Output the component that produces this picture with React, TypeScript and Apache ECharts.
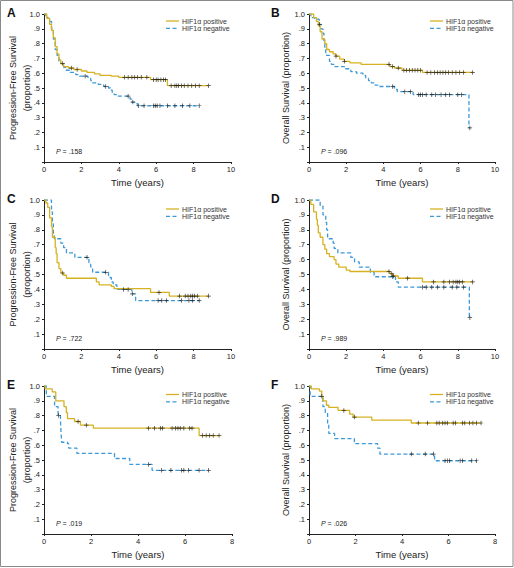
import React, { useEffect, useRef } from "react";
import * as echarts from "echarts";

// ---------- DATA ----------
const seriesNames = ["HIF1\u03b1 positive", "HIF1\u03b1 negative"];
const panelLetters = ["A", "B", "C", "D", "E", "F"];
const pValues = [".158", ".096", ".722", ".989", ".019", ".026"];
const yTitles = [
  "Progression-Free Survival\n(proportion)",
  "Overall Survival (proportion)",
  "Progression-Free Survival\n(proportion)",
  "Overall Survival (proportion)",
  "Progression-Free Survival\n(proportion)",
  "Overall Survival (proportion)",
];
const xTitle = "Time (years)";
const xMaxes = [10, 10, 10, 10, 8, 8];
const yTicks = [0, 0.1, 0.2, 0.3, 0.4, 0.5, 0.6, 0.7, 0.8, 0.9, 1.0];

// Panel A (PFS)
const aPos = [[0,1],[0.15,0.97],[0.3,0.93],[0.4,0.89],[0.5,0.84],[0.6,0.78],[0.7,0.73],[0.8,0.69],[0.9,0.665],[1.05,0.645],[1.3,0.635],[1.6,0.625],[2.0,0.615],[2.3,0.605],[2.7,0.595],[3.0,0.585],[3.6,0.58],[4.0,0.572],[5.7,0.556],[6.6,0.516]];
const aPosCens = [1.46,1.77,4.3,4.5,4.7,4.85,5.0,5.2,5.5,5.85,6.0,6.1,6.25,6.4,6.5,6.8,7.0,7.1,7.2,7.35,7.5,7.7,7.9,8.1,8.3,8.8];
const aNeg = [[0,1],[0.1,0.985],[0.2,0.97],[0.3,0.95],[0.4,0.9],[0.5,0.83],[0.6,0.76],[0.7,0.72],[0.8,0.68],[0.9,0.665],[1.05,0.64],[1.15,0.62],[1.4,0.605],[1.7,0.59],[1.9,0.58],[2.35,0.565],[2.5,0.55],[2.6,0.535],[2.9,0.525],[3.05,0.52],[3.2,0.51],[3.45,0.5],[3.55,0.485],[3.65,0.47],[3.75,0.455],[3.9,0.445],[4.6,0.425],[4.7,0.405],[4.85,0.395],[5.0,0.38]];
const aNegCens = [1.0,2.2,3.3,4.5,4.75,5.05,5.35,5.85,5.95,6.05,6.2,6.6,7.0,7.4,7.8,8.3];

// Panel B (OS)
const bPos = [[0,1],[0.25,0.975],[0.4,0.95],[0.5,0.92],[0.6,0.88],[0.7,0.83],[0.85,0.8],[0.95,0.76],[1.1,0.745],[1.3,0.73],[1.45,0.715],[1.65,0.695],[1.9,0.68],[2.2,0.67],[2.8,0.66],[4.35,0.645],[4.6,0.635],[5.0,0.62],[6.1,0.605]];
const bPosCens = [1.45,1.9,4.3,4.5,4.8,5.1,5.25,5.4,5.55,5.7,5.85,6.0,6.35,6.55,6.75,6.9,7.05,7.2,7.35,7.5,7.7,7.9,8.1,8.3,8.8];
const bNeg = [[0,1],[0.1,0.975],[0.3,0.965],[0.55,0.93],[0.65,0.9],[0.75,0.87],[0.8,0.82],[0.85,0.77],[0.9,0.72],[1.1,0.68],[1.2,0.66],[1.35,0.645],[1.9,0.63],[2.25,0.61],[2.55,0.6],[2.9,0.585],[3.05,0.565],[3.2,0.55],[3.35,0.535],[3.55,0.52],[3.7,0.51],[4.6,0.49],[4.75,0.475],[5.6,0.455],[8.6,0.23]];
const bNegCens = [0.57,4.5,5.15,5.45,5.9,6.0,6.1,6.3,6.6,6.8,7.1,7.35,7.55,8.0,8.2,8.65];

// Panel C (PFS)
const cPos = [[0,1],[0.1,0.98],[0.2,0.95],[0.3,0.88],[0.4,0.82],[0.45,0.75],[0.6,0.68],[0.65,0.64],[0.7,0.58],[0.8,0.54],[0.9,0.51],[1.05,0.495],[1.2,0.475],[2.8,0.45],[2.95,0.43],[3.6,0.42],[3.75,0.405],[5.7,0.38],[6.7,0.355]];
const cPosCens = [1.0,6.15,7.25,7.55,7.7,7.85,7.95,8.05,8.2,8.8];
const cNeg = [[0,1],[0.4,0.92],[0.45,0.84],[0.5,0.77],[0.55,0.74],[0.9,0.71],[1.05,0.68],[1.2,0.645],[1.65,0.615],[2.4,0.58],[2.5,0.55],[2.6,0.515],[3.45,0.48],[3.6,0.45],[3.7,0.43],[3.9,0.4],[4.7,0.37],[4.9,0.325]];
const cNegCens = [2.3,3.3,4.25,4.5,4.72,6.1,6.3,6.55,7.35,7.75,7.95,8.3];

// Panel D (OS)
const dPos = [[0,1],[0.1,0.97],[0.25,0.92],[0.4,0.87],[0.45,0.83],[0.5,0.78],[0.6,0.75],[0.75,0.7],[0.85,0.67],[0.95,0.64],[1.1,0.62],[1.35,0.6],[1.45,0.57],[1.6,0.55],[2.0,0.53],[2.2,0.52],[4.35,0.505],[4.5,0.49],[4.8,0.475],[6.1,0.45]];
const dPosCens = [4.3,4.45,4.55,5.3,6.7,7.25,7.55,7.75,7.9,8.0,8.1,8.25,8.8];
const dNeg = [[0,1],[0.6,0.96],[0.75,0.9],[0.9,0.85],[0.95,0.8],[1.0,0.74],[1.3,0.71],[1.35,0.675],[1.55,0.645],[2.25,0.615],[2.45,0.585],[2.7,0.55],[3.3,0.515],[3.5,0.485],[4.65,0.45],[4.8,0.415],[8.62,0.21]];
const dNegCens = [4.5,6.1,6.3,6.6,6.9,7.25,7.7,7.95,8.3,8.65];

// Panel E (PFS)
const ePos = [[0,1],[0.05,0.98],[0.35,0.96],[0.5,0.9],[0.85,0.86],[0.95,0.82],[1.0,0.78],[1.3,0.76],[1.55,0.735],[2.1,0.715],[6.6,0.665]];
const ePosCens = [1.45,1.8,4.45,4.7,4.95,5.05,5.45,5.6,5.7,5.8,5.95,6.2,6.3,6.75,6.9,7.05,7.2,7.45];
const eNeg = [[0,1],[0.1,0.93],[0.45,0.86],[0.6,0.8],[0.7,0.77],[0.72,0.7],[0.75,0.62],[1.0,0.61],[1.05,0.58],[1.4,0.545],[3.0,0.51],[3.65,0.47],[4.6,0.43]];
const eNegCens = [0.62,4.45,5.0,5.4,5.85,5.95,6.15,6.6,7.0];

// Panel F (OS)
const fPos = [[0,1],[0.1,0.98],[0.45,0.965],[0.55,0.93],[0.6,0.9],[0.75,0.87],[0.85,0.855],[1.25,0.835],[1.75,0.81],[1.9,0.79],[2.7,0.77],[4.4,0.75]];
const fPosCens = [1.5,1.95,4.7,5.1,5.5,5.6,5.75,5.85,5.95,6.2,6.3,6.6,6.7,6.9,7.05,7.2,7.4];
const fNeg = [[0,1],[0.05,0.93],[0.6,0.86],[0.7,0.82],[0.8,0.74],[0.85,0.68],[1.1,0.645],[1.95,0.61],[2.95,0.58],[3.05,0.54],[5.4,0.495]];
const fNegCens = [0.55,4.4,5.0,5.35,5.85,5.95,6.05,6.5,6.6,7.0,7.2];

const posCurves = [aPos, bPos, cPos, dPos, ePos, fPos];
const posCensors = [aPosCens, bPosCens, cPosCens, dPosCens, ePosCens, fPosCens];
const negCurves = [aNeg, bNeg, cNeg, dNeg, eNeg, fNeg];
const negCensors = [aNegCens, bNegCens, cNegCens, dNegCens, eNegCens, fNegCens];

// ---------- LAYOUT / STYLE ----------
const FONT = '"Liberation Sans Narrow", "Liberation Sans", Arial, sans-serif';
const BOLD_FONT = '"Liberation Sans", Arial, sans-serif';
const POS_COLOR = "#D6B222";
const NEG_COLOR = "#3D9AD8";
const grids = [
  { left: 44, top: 14, width: 187, height: 148 },
  { left: 309, top: 14, width: 186, height: 148 },
  { left: 44, top: 200, width: 187, height: 149 },
  { left: 309, top: 200, width: 186, height: 149 },
  { left: 44, top: 386, width: 188, height: 148 },
  { left: 309, top: 386, width: 186, height: 148 },
];
const PLUS = "path://M4.2,0h1.6v4.2h4.2v1.6h-4.2v4.2h-1.6v-4.2h-4.2v-1.6h4.2z";

function survAt(curve: number[][], t: number): number {
  let v = curve[0][1];
  for (const [ti, si] of curve) {
    if (ti <= t) v = si;
  }
  return v;
}

function lineData(curve: number[][], cens: number[]): number[][] {
  const out = curve.map((p) => [p[0], p[1]]);
  const last = out[out.length - 1];
  const maxC = Math.max(...cens);
  if (maxC > last[0]) out.push([maxC, last[1]]);
  return out;
}

function buildOption() {
  const xAxes: any[] = [];
  const yAxes: any[] = [];
  const series: any[] = [];
  const graphic: any[] = [];

  graphic.push({
    type: "rect",
    shape: { x: 0.5, y: 0.5, width: 512.5, height: 566 },
    style: { fill: "none", stroke: "#8a8a8a", lineWidth: 1 },
    silent: true,
  });

  grids.forEach((g, i) => {
    const isLeft = i % 2 === 0;
    xAxes.push({
      gridIndex: i,
      type: "value",
      min: 0,
      max: xMaxes[i],
      interval: 2,
      name: xTitle,
      nameLocation: "middle",
      nameGap: 15,
      nameMoveOverlap: false,
      nameTextStyle: { fontFamily: FONT, fontSize: 9.5, color: "#222" },
      axisLine: { lineStyle: { color: "#222", width: 1 } },
      axisTick: { length: 2, lineStyle: { color: "#222" } },
      axisLabel: { fontFamily: FONT, fontSize: 7.5, color: "#222", margin: 3 },
      splitLine: { show: false },
    });
    yAxes.push({
      gridIndex: i,
      type: "value",
      min: 0,
      max: 1,
      interval: 0.1,
      name: yTitles[i],
      nameLocation: "middle",
      nameRotate: 90,
      nameGap: isLeft ? 10 : 16,
      nameMoveOverlap: false,
      nameTextStyle: { fontFamily: FONT, fontSize: 9, color: "#222", lineHeight: 14 },
      axisLine: { show: true, lineStyle: { color: "#222", width: 1 } },
      axisTick: { show: true, length: 2, lineStyle: { color: "#222" } },
      axisLabel: {
        fontFamily: FONT,
        fontSize: 7.5,
        color: "#222",
        margin: 4,
        formatter: (v: number) => {
          const idx = yTicks.findIndex((t) => Math.abs(t - v) < 1e-6);
          if (idx <= 0) return "";
          if (idx === yTicks.length - 1) return "1.0";
          return "." + idx;
        },
      },
      splitLine: { show: false },
    });

    const curves = [posCurves[i], negCurves[i]];
    const censors = [posCensors[i], negCensors[i]];
    [0, 1].forEach((k) => {
      series.push({
        name: seriesNames[k],
        type: "line",
        xAxisIndex: i,
        yAxisIndex: i,
        step: "end",
        symbol: "none",
        data: lineData(curves[k], censors[k]),
        lineStyle: {
          color: k === 0 ? POS_COLOR : NEG_COLOR,
          width: 1.3,
          type: k === 0 ? "solid" : [4, 2.5],
        },
        z: k === 0 ? 3 : 2,
      });
    });
    [0, 1].forEach((k) => {
      series.push({
        name: seriesNames[k] + " censored",
        type: "scatter",
        xAxisIndex: i,
        yAxisIndex: i,
        symbol: PLUS,
        symbolSize: 4.5,
        itemStyle: { color: "#111" },
        data: censors[k].map((t) => [t, survAt(curves[k], t)]),
        z: 5,
      });
    });

    // panel letter
    graphic.push({
      type: "text",
      x: isLeft ? 7 : 271,
      y: g.top - 1,
      style: {
        text: panelLetters[i],
        font: "bold 12px " + BOLD_FONT,
        fill: "#111",
        verticalAlign: "middle",
      },
    });
    // legend
    const lx = isLeft ? 166 : 430;
    const ly1 = g.top + (i < 2 ? 7 : i < 4 ? 9 : 8.5);
    const ly2 = ly1 + 7.3;
    graphic.push({
      type: "line",
      shape: { x1: lx, y1: ly1, x2: lx + 13, y2: ly1 },
      style: { stroke: POS_COLOR, lineWidth: 1.3 },
    });
    graphic.push({
      type: "line",
      shape: { x1: lx, y1: ly2, x2: lx + 13, y2: ly2 },
      style: { stroke: NEG_COLOR, lineWidth: 1.3, lineDash: [4, 2.5] },
    });
    graphic.push({
      type: "text",
      x: lx + 16,
      y: ly1,
      style: { text: seriesNames[0], font: "7px " + FONT, fill: "#333", verticalAlign: "middle" },
    });
    graphic.push({
      type: "text",
      x: lx + 16,
      y: ly2,
      style: { text: seriesNames[1], font: "7px " + FONT, fill: "#333", verticalAlign: "middle" },
    });
    // p value
    graphic.push({
      type: "text",
      x: g.left + 12,
      y: g.top + g.height - 10.5,
      style: {
        text: "{i|P} = " + pValues[i],
        font: "7px " + FONT,
        fill: "#222",
        verticalAlign: "middle",
        rich: { i: { fontStyle: "italic", fontFamily: FONT, fontSize: 7 } },
      },
    });
  });

  return {
    animation: false,
    backgroundColor: "#ffffff",
    grid: grids.map((g) => ({ ...g, containLabel: false })),
    xAxis: xAxes,
    yAxis: yAxes,
    series,
    graphic,
  };
}

export default function App() {
  const ref = useRef<HTMLDivElement>(null);
  useEffect(() => {
    if (!ref.current) return;
    const chart = echarts.init(ref.current, undefined, { renderer: "svg" });
    chart.setOption(buildOption() as any);
    return () => chart.dispose();
  }, []);
  return (
    <div
      ref={ref}
      style={{ position: "absolute", left: 0, top: 0, width: 514, height: 568, background: "#fff" }}
    />
  );
}
